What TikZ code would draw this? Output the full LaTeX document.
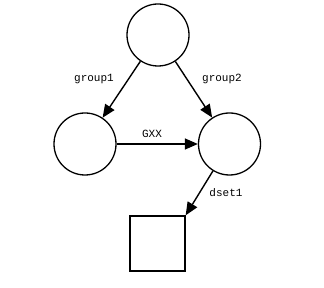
\documentclass[tikz,border=0pt]{standalone}
\usepackage{fontspec}
\setmonofont{Liberation Mono}
\usetikzlibrary{arrows.meta}
\begin{document}
\begin{tikzpicture}[x=1pt,y=-1pt,
  state/.style={draw,circle,line width=1.3pt,minimum size=62pt,inner sep=0pt},
  leaf/.style={draw,rectangle,line width=1.3pt,minimum size=55pt,inner sep=0pt},
  edge/.style={line width=1.4pt,-{Triangle[length=13pt,width=11pt]}},
  lbl/.style={font=\ttfamily\fontsize{11}{13}\selectfont}]
  \useasboundingbox (0,0) rectangle (324,288);

  % Nodes
  \node[state] (top) at (158, 35) {};
  \node[state] (lft) at (85, 144) {};
  \node[state] (rgt) at (229.5, 144) {};
  \node[leaf] (sq) at (157.5, 243.5) {};

  % Edges
  \draw[edge] (top) -- (lft);
  \draw[edge] (top) -- (rgt);
  \draw[edge] (lft) -- (rgt);
  \draw[edge] (rgt) -- (sq.north east);

  % Labels
  \node[lbl] (g1) at (94, 79) {group1};
  \node[lbl] (g2) at (222, 79) {group2};
  \node[lbl] (gx) at (152, 134) {GXX};
  \node[lbl] (d1) at (226, 193) {dset1};
\end{tikzpicture}
\end{document}
